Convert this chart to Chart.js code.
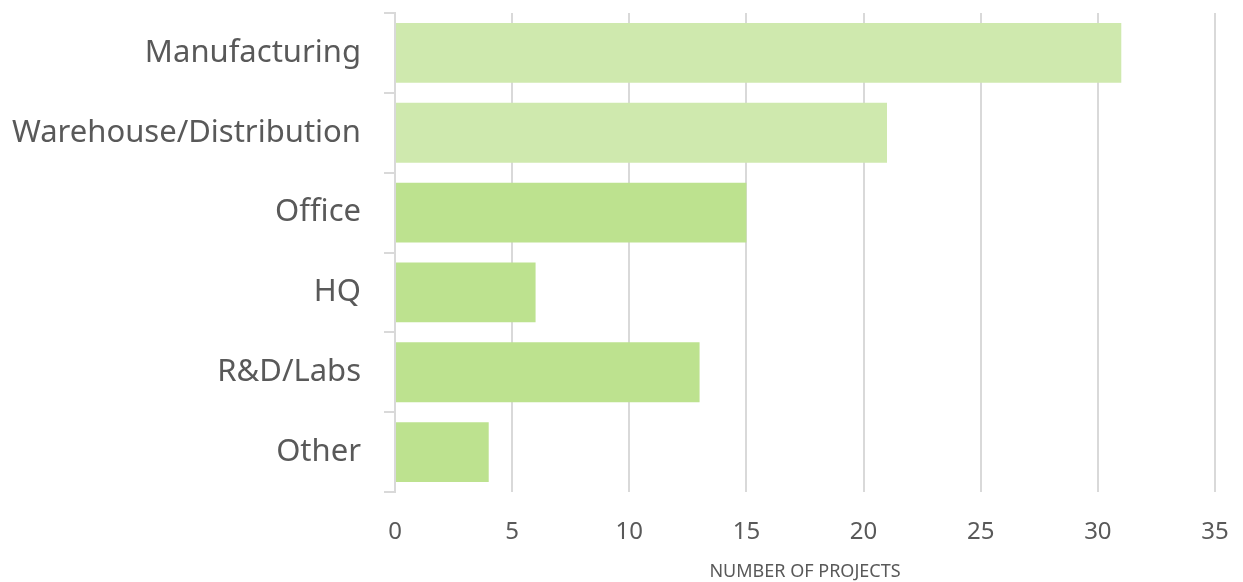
<!DOCTYPE html>
<html>
<head>
<meta charset="utf-8">
<script src="https://cdn.jsdelivr.net/npm/chart.js@4"></script>
<style>
  body { margin: 0; background: #fff; }
</style>
</head>
<body>
<canvas id="projectChart" width="1243" height="582"></canvas>
<script>
// Project counts by facility type
const categories = ['Manufacturing', 'Warehouse/Distribution', 'Office', 'HQ', 'R&D/Labs', 'Other'];
const projectCounts = [31, 21, 15, 6, 13, 4];
const xTicks = [0, 5, 10, 15, 20, 25, 30, 35];
const axisTitle = 'NUMBER OF PROJECTS';

const barColors = ['#cfe9ae', '#cfe9ae', '#bde28f', '#bde28f', '#bde28f', '#bde28f'];
const textColor = '#595959';
const gridColor = '#d9d9d9';
const fontFamily = "'Noto Sans', 'Open Sans', sans-serif";

const ctx = document.getElementById('projectChart').getContext('2d');
const projectChart = new Chart(ctx, {
  type: 'bar',
  data: {
    labels: categories,
    datasets: [{
      data: projectCounts,
      backgroundColor: barColors,
      borderWidth: 0,
      barPercentage: 0.75,
      categoryPercentage: 1
    }]
  },
  options: {
    indexAxis: 'y',
    responsive: false,
    animation: false,
    layout: { padding: { top: 13, right: 28, left: 0, bottom: 0 } },
    plugins: {
      legend: { display: false },
      tooltip: { enabled: false }
    },
    scales: {
      x: {
        min: 0,
        max: 35,
        afterBuildTicks: scale => { scale.ticks = xTicks.map(v => ({ value: v })); },
        afterFit: scale => {
          scale.height = 90;
          scale.paddingLeft = 0;
          scale.paddingRight = 0;
        },
        border: { display: false },
        grid: { color: gridColor, lineWidth: 2, drawTicks: false },
        ticks: { color: textColor, font: { family: fontFamily, size: 24 }, padding: 26 },
        title: {
          display: true,
          text: axisTitle,
          color: textColor,
          font: { family: fontFamily, size: 18 },
          padding: { top: 0, bottom: -1 }
        }
      },
      y: {
        afterFit: scale => {
          scale.width = 395;
          scale.paddingTop = 0;
          scale.paddingBottom = 0;
        },
        border: { display: true, color: gridColor, width: 2 },
        grid: { offset: true, drawOnChartArea: false, color: gridColor, lineWidth: 2, tickLength: 11 },
        ticks: { color: textColor, font: { family: fontFamily, size: 31 }, padding: 23 }
      }
    }
  }
});
</script>
</body>
</html>
